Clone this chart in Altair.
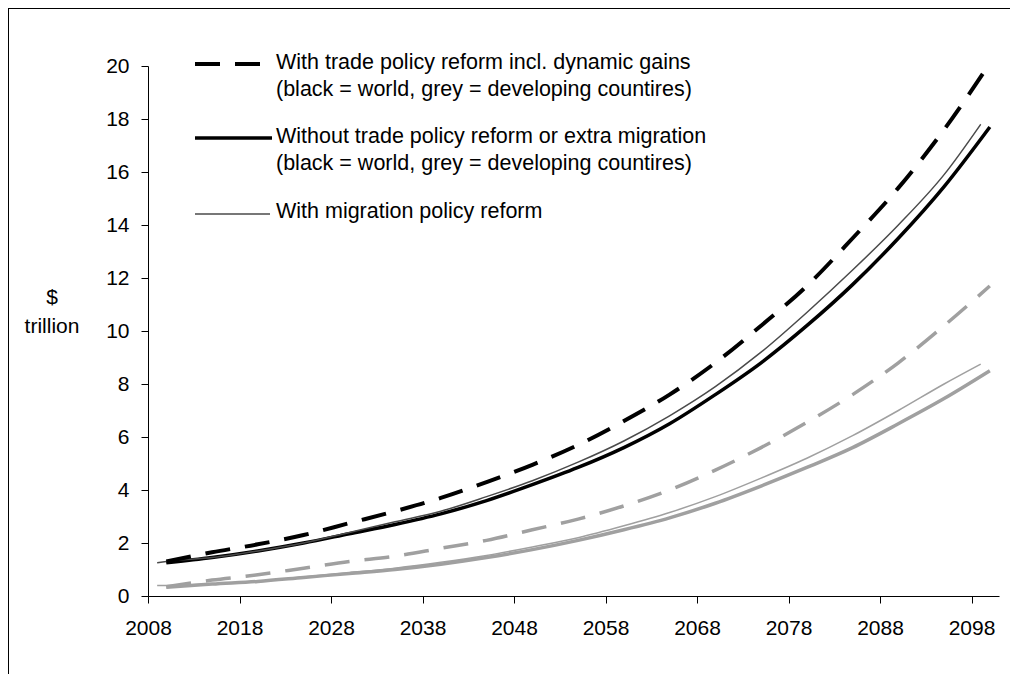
import altair as alt
import pandas as pd

FONT = "Liberation Sans"

# ---- data ----
years_main = [2010, 2015, 2020, 2025, 2030, 2035, 2040, 2045, 2050, 2055,
              2060, 2065, 2070, 2075, 2080, 2085, 2090, 2095, 2100]
world_trade = [1.3, 1.65, 1.95, 2.3, 2.75, 3.2, 3.7, 4.3, 4.95, 5.7,
               6.6, 7.6, 8.8, 10.2, 11.7, 13.5, 15.4, 17.6, 20.1]
world_base = [1.25, 1.45, 1.7, 2.0, 2.35, 2.7, 3.1, 3.6, 4.2, 4.85,
              5.6, 6.5, 7.6, 8.8, 10.2, 11.75, 13.5, 15.45, 17.7]
dev_trade = [0.35, 0.6, 0.8, 1.05, 1.3, 1.5, 1.8, 2.1, 2.5, 2.9,
             3.4, 4.0, 4.75, 5.6, 6.55, 7.6, 8.8, 10.2, 11.7]
dev_base = [0.33, 0.45, 0.55, 0.7, 0.85, 1.0, 1.2, 1.45, 1.75, 2.1,
            2.5, 2.95, 3.5, 4.15, 4.85, 5.6, 6.5, 7.45, 8.5]

years_mig = [2009, 2010, 2015, 2020, 2025, 2030, 2035, 2040, 2045, 2050,
             2055, 2060, 2065, 2070, 2075, 2080, 2085, 2090, 2095, 2099]
world_mig = [1.25, 1.3, 1.45, 1.7, 2.0, 2.4, 2.8, 3.2, 3.75, 4.35,
             5.05, 5.85, 6.8, 7.9, 9.2, 10.7, 12.3, 14.0, 15.9, 17.8]
dev_mig = [0.4, 0.4, 0.45, 0.55, 0.72, 0.88, 1.05, 1.27, 1.53, 1.85,
           2.2, 2.65, 3.15, 3.75, 4.45, 5.2, 6.05, 7.0, 8.0, 8.75]

x_ticks = [2008, 2018, 2028, 2038, 2048, 2058, 2068, 2078, 2088, 2098]
y_ticks = [0, 2, 4, 6, 8, 10, 12, 14, 16, 18, 20]

legend_text = [
    "With trade policy reform incl. dynamic gains",
    "(black  = world, grey  = developing countires)",
    "Without trade policy reform or extra migration",
    "(black  = world, grey  = developing countires)",
    "With migration policy reform",
]
y_title = ["$", "trillion"]

# ---- build table ----
rows = []
for name, yrs, vals in [
    ("dev_base", years_main, dev_base),
    ("dev_mig", years_mig, dev_mig),
    ("dev_trade", years_main, dev_trade),
    ("world_base", years_main, world_base),
    ("world_mig", years_mig, world_mig),
    ("world_trade", years_main, world_trade),
]:
    for yr, v in zip(yrs, vals):
        rows.append({"series": name, "year": yr, "value": v})
df = pd.DataFrame(rows)

W, H = 851, 530
GREY = "#a0a0a0"
styles = {
    "dev_base": dict(color=GREY, strokeWidth=3.5),
    "dev_mig": dict(color=GREY, strokeWidth=1.5),
    "dev_trade": dict(color=GREY, strokeWidth=3.5, strokeDash=[25, 15]),
    "world_base": dict(color="#000000", strokeWidth=3.5),
    "world_mig": dict(color="#4a4a4a", strokeWidth=1.5),
    "world_trade": dict(color="#000000", strokeWidth=4, strokeDash=[25, 15]),
}

x_enc = alt.X("year:Q",
              scale=alt.Scale(domain=[2008, 2101], nice=False, zero=False),
              axis=alt.Axis(values=x_ticks, format="d", grid=False, title=None,
                            tickSize=7, labelPadding=14, labelFlush=False,
                            labelOverlap=False))
y_enc = alt.Y("value:Q",
              scale=alt.Scale(domain=[0, 20], nice=False),
              axis=alt.Axis(values=y_ticks, grid=False, title=None,
                            tickSize=7, labelPadding=12, labelOverlap=False))

layers = []
for name, st in styles.items():
    layers.append(
        alt.Chart(df).transform_filter(alt.datum.series == name)
        .mark_line(interpolate="monotone", **st)
        .encode(x=x_enc, y=y_enc)
    )

one = pd.DataFrame({"k": [0]})

def text_layer(txt, x, y, align="left", size=21.5):
    return alt.Chart(pd.DataFrame({"t": [txt]})).mark_text(
        align=align, baseline="middle", font=FONT, fontSize=size, color="#000000"
    ).encode(x=alt.value(x), y=alt.value(y), text="t:N")

# legend lines
layers.append(alt.Chart(one).mark_rule(color="#000000", strokeWidth=4, strokeDash=[25, 15])
              .encode(x=alt.value(47), x2=alt.value(114), y=alt.value(-2)))
layers.append(alt.Chart(one).mark_rule(color="#000000", strokeWidth=3.5)
              .encode(x=alt.value(47), x2=alt.value(124), y=alt.value(72)))
layers.append(alt.Chart(one).mark_rule(color="#4a4a4a", strokeWidth=1.5)
              .encode(x=alt.value(47), x2=alt.value(122), y=alt.value(148)))

# legend texts
for txt, yy in zip(legend_text, [-3, 24, 71, 98, 146]):
    layers.append(text_layer(txt, 128, yy))

# y title
for txt, yy in zip(y_title, [232, 261]):
    layers.append(text_layer(txt, -96, yy, align="center", size=21))

# outer frame (top and left edges)
layers.append(alt.Chart(one).mark_rule(color="#000000", strokeWidth=1)
              .encode(x=alt.value(-139.5), y=alt.value(-58), y2=alt.value(H + 78)))
layers.append(alt.Chart(one).mark_rule(color="#000000", strokeWidth=1)
              .encode(x=alt.value(-140), x2=alt.value(W + 11), y=alt.value(-57.5)))

chart = alt.layer(*layers).properties(
    width=W, height=H,
    autosize=alt.AutoSizeParams(type="none"),
    padding={"left": 140, "top": 58, "right": 11, "bottom": 78},
    background="white",
).configure_view(stroke=None).configure_axis(
    labelFont=FONT, labelFontSize=21, labelColor="#000000",
    domainColor="#000000", tickColor="#000000", domainWidth=1, tickWidth=1,
)

chart.save("out.html", embed_options={"renderer": "svg", "actions": False})
